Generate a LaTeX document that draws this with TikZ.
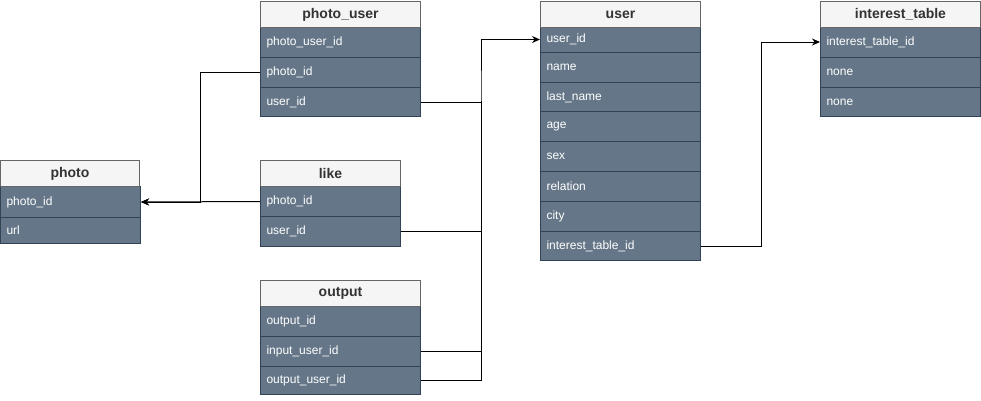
\documentclass[tikz,border=0pt]{standalone}
\usepackage{fontspec}
\setmainfont{Liberation Sans}
\usetikzlibrary{arrows.meta}
\definecolor{hdrfill}{HTML}{F5F5F5}
\definecolor{hdrline}{HTML}{666666}
\definecolor{rowfill}{HTML}{647687}
\definecolor{rowline}{HTML}{314354}
\definecolor{hdrtext}{HTML}{333333}
\begin{document}
\begin{tikzpicture}[x=1bp,y=-1bp,
  hdr/.style={draw=hdrline, fill=hdrfill, line width=1bp, anchor=north west, inner sep=0pt,
    minimum height=26bp, text=hdrtext, font=\fontsize{14bp}{16bp}\selectfont\bfseries},
  fld/.style={draw=rowline, fill=rowfill, line width=1bp, anchor=north west, inner xsep=6bp,
    inner ysep=0pt, text=white, align=left, font=\fontsize{12bp}{14bp}\selectfont},
  wA/.style={minimum width=160bp},
  wB/.style={minimum width=140bp},
  fA/.style={fld, minimum width=160bp, text width=148bp},
  fB/.style={fld, minimum width=140bp, text width=128bp},
  link/.style={draw=black, line width=1bp},
  arr/.style={link, -{Stealth[length=8bp,width=7bp]}}]
\useasboundingbox (0,0) rectangle (981,400);

% photo_user
\node[fA, minimum height=31bp] (pu1) at (260,26) {photo\_user\_id};
\node[fA, minimum height=30bp] (pu2) at (260,57) {photo\_id};
\node[fA, minimum height=29bp] (pu3) at (260,87) {user\_id};
\node[hdr, wA] (pu) at (260,1) {photo\_user};

% photo
\node[fB, minimum height=31bp, minimum width=139bp] (ph1) at (0,186) {photo\_id};
\node[fB, minimum height=26bp, minimum width=139bp] (ph2) at (0,217) {url};
\node[hdr, minimum width=139bp] (ph) at (0,160) {photo};

% like
\node[fB, minimum height=30bp] (lk1) at (260,186) {photo\_id};
\node[fB, minimum height=30bp] (lk2) at (260,216) {user\_id};
\node[hdr, wB] (lk) at (260,160) {like};

% output
\node[fA, minimum height=30bp] (op1) at (260,306) {output\_id};
\node[fA, minimum height=30bp] (op2) at (260,336) {input\_user\_id};
\node[fA, minimum height=28bp] (op3) at (260,366) {output\_user\_id};
\node[hdr, wA] (op) at (260,280) {output};

% user
\node[fA, minimum height=26bp] (us1) at (540,26) {user\_id};
\node[fA, minimum height=30bp] (us2) at (540,52) {name};
\node[fA, minimum height=29bp] (us3) at (540,82) {last\_name};
\node[fA, minimum height=30bp] (us4) at (540,111) {age};
\node[fA, minimum height=30bp] (us5) at (540,141) {sex};
\node[fA, minimum height=30bp] (us6) at (540,171) {relation};
\node[fA, minimum height=30bp] (us7) at (540,201) {city};
\node[fA, minimum height=29bp] (us8) at (540,231) {interest\_table\_id};
\node[hdr, wA] (us) at (540,1) {user};

% interest_table
\node[fA, minimum height=31bp] (it1) at (820,26) {interest\_table\_id};
\node[fA, minimum height=30bp] (it2) at (820,57) {none};
\node[fA, minimum height=29bp] (it3) at (820,87) {none};
\node[hdr, wA] (it) at (820,1) {interest\_table};

% connectors
\coordinate (bus) at (481,101);
\draw[arr] (pu2.west) -- ++(-60,0) |- (ph1.east);
\draw[arr] (lk1.west) -- (ph1.east);
\draw[arr] (pu3.east) -| (bus) |- (us1.west);
\draw[link] (lk2.east) -| (bus);
\draw[link] (op2.east) -| (bus);
\draw[link] (op3.east) -| (bus);
\draw[arr] (us8.east) -- ++(60,0) |- (it1.west);
\end{tikzpicture}
\end{document}
